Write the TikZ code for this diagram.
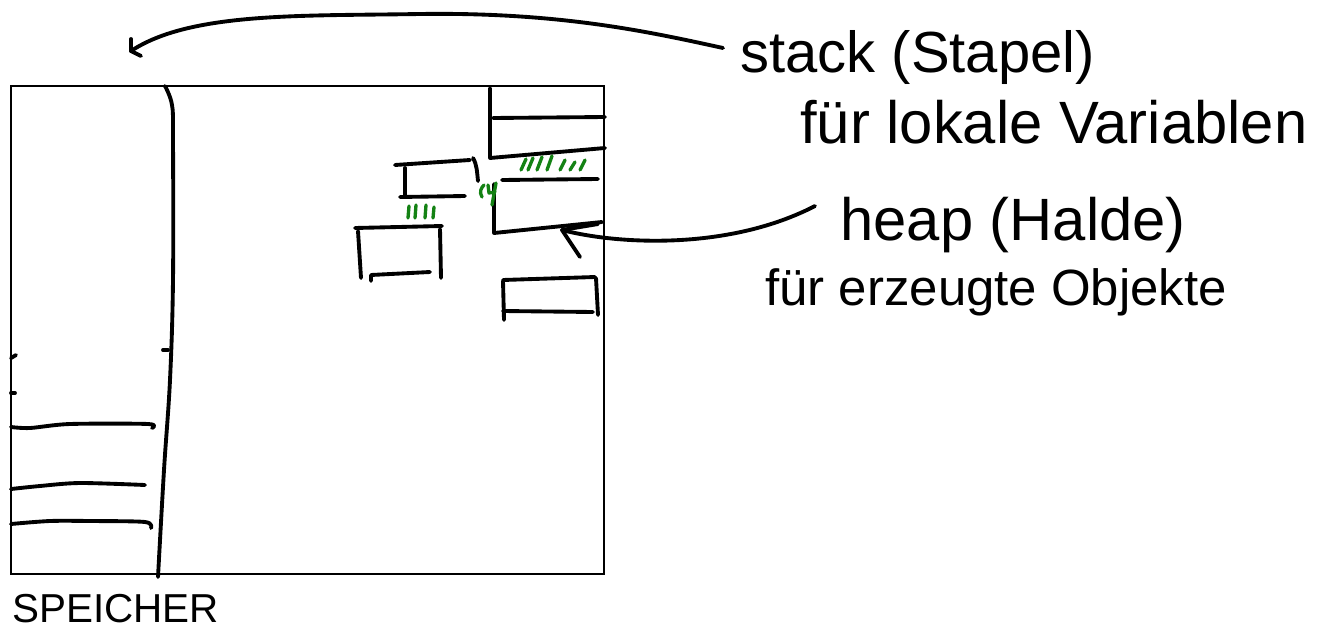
\documentclass[tikz,border=0pt]{standalone}
\usepackage{fontspec}
\newfontfamily\hand{Liberation Sans}
\definecolor{hatch}{RGB}{20,130,20}
\tikzset{
  pen/.style={line width=2.2pt, line cap=round, line join=round},
  frame/.style={line width=1.2pt},
  hatchpen/.style={pen, color=hatch, line width=1.9pt},
  label/.style={anchor=base west, inner sep=0pt, font=\hand\fontsize{33}{36}\selectfont},
}
\begin{document}
\begin{tikzpicture}[x=0.02cm,y=-0.02cm]
\useasboundingbox (0,0) rectangle (1321,632);

% memory frame and the stack/heap divider
\node[frame, draw, minimum width=593*0.02cm, minimum height=488*0.02cm, anchor=north west, inner sep=0pt] (mem) at (10,85) {};
\draw[pen] plot[smooth, tension=0.6] coordinates {(165,86) (172,105) (173,140) (173,280) (170,380) (164,470) (158,577)};
\draw[pen] (163,350) -- (168,350);

% stack frames on the left
\draw[pen] (11,358) -- (16,355);
\draw[pen] (11,393) -- (15,393);
\draw[pen] plot[smooth, tension=0.5] coordinates {(11,427) (30,428) (70,424) (148,424) (152,428)};
\draw[pen] plot[smooth, tension=0.5] coordinates {(11,489) (40,486) (80,483) (145,485)};
\draw[pen] plot[smooth, tension=0.5] coordinates {(11,524) (50,521) (90,521) (145,522) (151,528)};

% heap objects
\draw[pen] (490,88) -- (490,158) -- (605,148);
\draw[pen] (493,118) -- (605,117);
\draw[pen] (502,180) -- (598,179);
\draw[pen] (494,184) -- (494,233) -- (602,222);
\draw[pen] (395,165) -- (470,160);
\draw[pen] (405,168) -- (405,197);
\draw[pen] (400,197) -- (465,196);
\draw[pen] (473,158) .. controls (477,165) and (477,172) .. (478,181);
\draw[pen] (355,228) -- (442,226);
\draw[pen] (358,231) -- (361,278);
\draw[pen] (440,229) -- (441,278);
\draw[pen] (371,281) -- (371,275) -- (430,272);
\draw[pen] (503,280) -- (595,277);
\draw[pen] (503,281) -- (504,320);
\draw[pen] (503,311) -- (593,312);
\draw[pen] (596,278) -- (598,315);

% green hatching of occupied cells
\foreach \x/\h in {521/11, 528/12, 537/13, 547/14, 560/10, 570/8, 580/10}
  \draw[hatchpen] (\x,170) -- ++(5,-\h);
\foreach \x/\h in {408/12, 415/13, 425/13, 433/11}
  \draw[hatchpen] (\x,218) -- ++(1,-\h);
\draw[hatchpen] (482,197) .. controls (479,192) and (481,188) .. (484,185);
\draw[hatchpen] (488,185) -- (489,193) -- (495,192);
\draw[hatchpen] (496,183) -- (492,205);

% labels
\node[label] (stacklbl) at (740,72) {stack (Stapel)};
\node[label, font=\hand\fontsize{34}{36}\selectfont] (stackdesc) at (800,143) {für lokale Variablen};
\node[label, font=\hand\fontsize{34}{36}\selectfont] (heaplbl) at (840,240) {heap (Halde)};
\node[label, font=\hand\fontsize{29}{32}\selectfont] (heapdesc) at (765,305) {für erzeugte Objekte};
\node[anchor=base west, inner sep=0pt, font=\hand\fontsize{23}{26}\selectfont] (memlbl) at (12,622) {SPEICHER};

% pointers from the labels into the memory
\coordinate (stackfrom) at (723,48);
\coordinate (stacktip) at (131,51);
\coordinate (heapfrom) at (815,206);
\coordinate (heaptip) at (562,230);
\draw[pen] (stackfrom) .. controls (650,32) and (560,12) .. (420,14)
  .. controls (300,16) and (190,12) .. (stacktip);
\draw[pen] (stacktip) -- (131,39);
\draw[pen] (stacktip) -- (141,56);
\draw[pen] (heapfrom) .. controls (730,250) and (620,245) .. (heaptip);
\draw[pen] (heaptip) -- (598,224);
\draw[pen] (heaptip) -- (580,257);
\end{tikzpicture}
\end{document}
